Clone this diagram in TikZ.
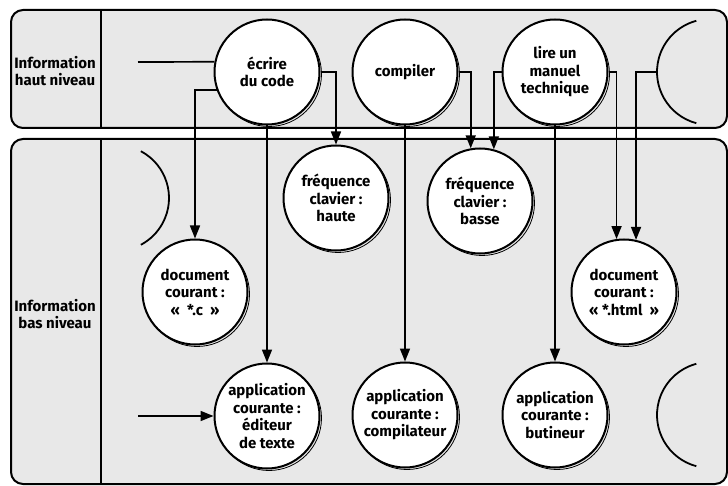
\documentclass[tikz,border=0pt]{standalone}
\usepackage{fontspec}
\setmainfont{Fira Sans}
\usetikzlibrary{arrows.meta}
\begin{document}
\begin{tikzpicture}[x=1pt,y=-1pt,>={Triangle[length=13pt,width=10pt]},font=\bfseries\fontsize{15}{17.5}\selectfont]
        \tikzstyle{state}=[circle,draw=black,line width=2pt,fill=white,minimum size=105pt,inner sep=0pt,align=center,
                preaction={draw,line width=0.8pt,transform canvas={shift={(2pt,-2pt)}}}]
        \tikzstyle{band}=[draw=black,line width=2pt,fill=black!9,rounded corners=12pt]
        \tikzstyle{edge}=[draw,line width=1.7pt]
        \tikzstyle{part}=[draw,line width=1.8pt]
        \useasboundingbox (0,0) rectangle (728,486);
        % the two levels
        \path[band] (11,10) rectangle (727,128);
        \path[band] (11,139) rectangle (727,484);
        \draw[line width=1.8pt] (101,10) -- (101,128);
        \draw[line width=1.8pt] (101,139) -- (101,484);
        \node[align=center] (haut) at (55,71) {Information\\haut niveau};
        \node[align=center] (bas) at (55,314) {Information\\bas niveau};

        % high level
        \node [state] (ecrire) at (267,72) {écrire\\du code};
        \node [state] (compiler) at (405,72) {compiler};
        \node [state] (lire) at (555,72) {lire un\\manuel\\technique};
        \draw[part] (710,72) ++(105:53) arc (105:255:53);
        \coordinate (rtop) at (657,72);
        \coordinate (intop) at (138,62);

        % low level
        \draw[part] (116,198) ++(-62:53) arc (-62:62:53);
        \node [state] (hau) at (336,198) {fréquence\\clavier~:\\haute};
        \node [state] (basse) at (480,201) {fréquence\\clavier~:\\basse};
        \node [state] (docc) at (195,292) {document\\courant~:\\«~~*.c~~»};
        \node [state] (html) at (624,292) {document\\courant~:\\«~*.html~~»};
        \node [state] (edit) at (267,416) {application\\courante~:\\éditeur\\de texte};
        \node [state] (compil) at (405,415) {application\\courante~:\\compilateur};
        \node [state] (butin) at (555,415) {application\\courante~:\\butineur};
        \draw[part] (710,415) ++(105:53) arc (105:255:53);
        \coordinate (inbot) at (138,416);

        \path[edge] (intop) -- (ecrire.169);
        \path[edge,->] (ecrire.200) -| (docc);
        \path[edge,->] (ecrire.east) -| (hau);
        \path[edge,->] (ecrire) -- (edit);
        \path[edge,->] (compiler.east) -| (basse.100);
        \path[edge,->] (compiler) -- (compil);
        \path[edge,->] (lire.west) -| (basse.75);
        \path[edge,->] (lire) -- (butin);
        \path[edge,->] (lire.east) -| (html.98);
        \path[edge,->] (rtop) -| (html.77);
        \path[edge,->] (inbot) -- (edit);
\end{tikzpicture}
\end{document}
